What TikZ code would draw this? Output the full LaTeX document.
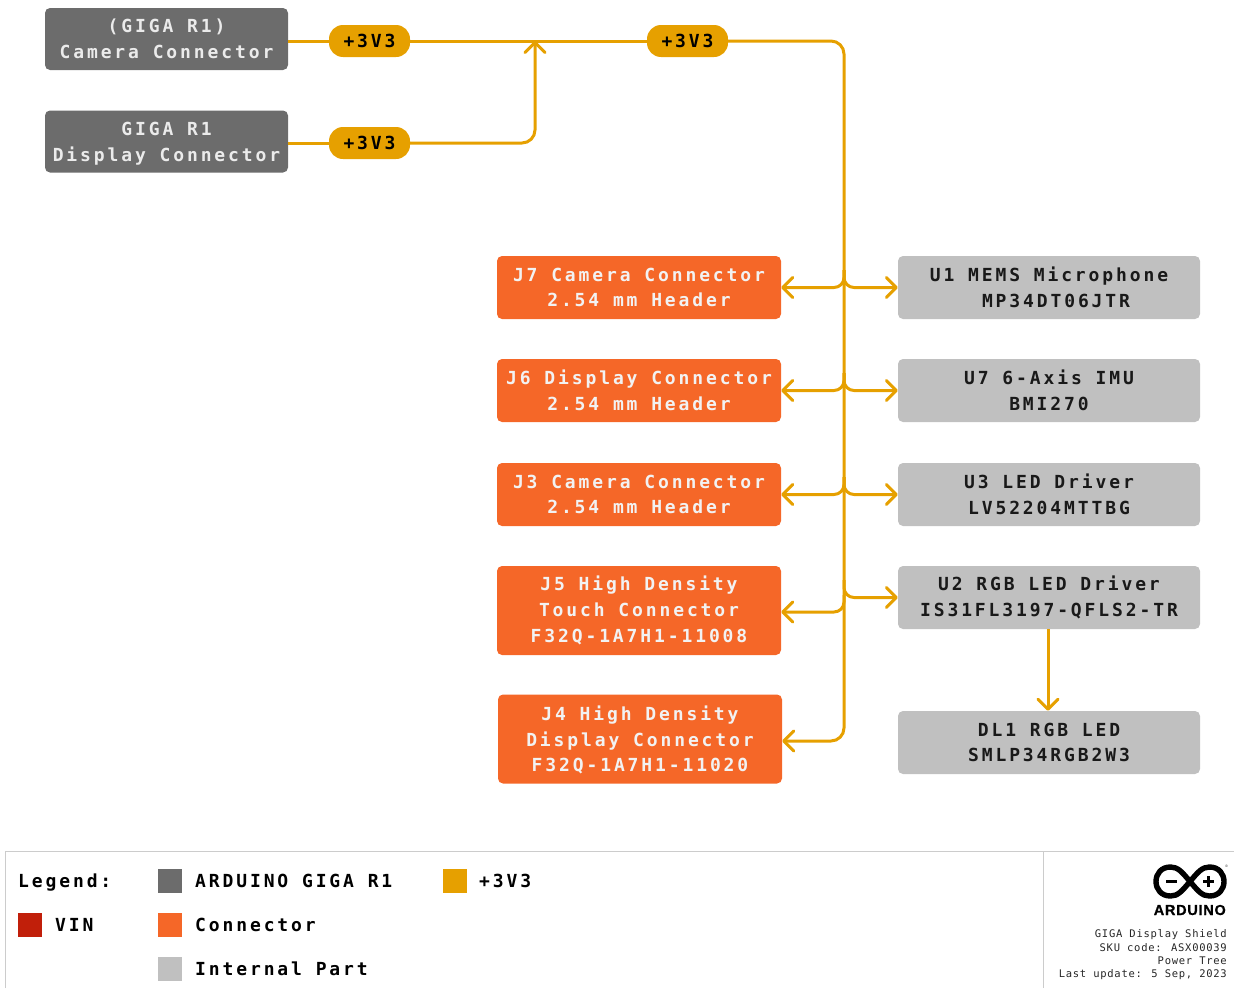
\documentclass[tikz,border=0pt]{standalone}
\usepackage{fontspec}
\usetikzlibrary{arrows.meta}
\newfontfamily\boxfont[LetterSpace=16]{DejaVu Sans Mono Bold}
\newfontfamily\smallfont[LetterSpace=7]{DejaVu Sans Mono}
\newfontfamily\logofont[LetterSpace=5,FakeBold=1]{Liberation Sans Bold}
\definecolor{wirecol}{HTML}{E6A000}
\definecolor{boardcol}{HTML}{6C6C6C}
\definecolor{conncol}{HTML}{F56728}
\definecolor{partcol}{HTML}{C0C0C0}
\definecolor{vincol}{HTML}{C11F0A}
\definecolor{framecol}{HTML}{CCCCCC}
\tikzset{
  box/.style={rounded corners=5pt, align=center, inner sep=0pt, font=\fontsize{18}{25.6}\boxfont},
  board/.style={box, fill=boardcol, text=white!92!black, minimum width=243pt, minimum height=62pt},
  conn/.style={box, fill=conncol, text=white!95!black, minimum width=284pt},
  part/.style={box, fill=partcol, text=black!90!white, minimum width=302pt, minimum height=63pt},
  pill/.style={box, fill=wirecol, text=black, rounded corners=14pt, minimum width=81pt, minimum height=32pt},
  wire/.style={wirecol, line width=3pt, rounded corners=13pt},
  arr/.style={wire, -{Straight Barb[length=10pt,width=20pt,round]}},
  swatch/.style={minimum width=24pt, minimum height=24pt, inner sep=0pt},
  lab/.style={anchor=west, inner sep=0pt, text height=13pt, text depth=0pt, font=\fontsize{18}{22}\boxfont},
  stamp/.style={anchor=east, inner sep=0pt, text=black!85!white, font=\fontsize{10.5}{13}\smallfont}
}
\begin{document}
\begin{tikzpicture}[x=1pt,y=-1pt]
      \useasboundingbox (0,0) rectangle (1234,988);
      %nodes
      \node[board] (cam) at (166.5, 39) {(GIGA R1)\\Camera Connector};
      \node[board] (dsp) at (166.5, 141.5) {\rule{0pt}{17.5pt}GIGA R1\\Display Connector};
      \node[pill] (pa) at (369.5, 41) {+3V3};
      \node[pill] (pb) at (369.5, 143) {+3V3};
      \node[pill] (pc) at (687.5, 41) {+3V3};
      \node[conn, minimum height=63pt] (j7) at (639, 287.5) {J7 Camera Connector\\2.54 mm Header};
      \node[conn, minimum height=63pt] (j6) at (639, 390.5) {J6 Display Connector\\2.54 mm Header};
      \node[conn, minimum height=63pt] (j3) at (639, 494.5) {J3 Camera Connector\\2.54 mm Header};
      \node[conn, minimum height=89pt] (j5) at (639, 610.5) {J5 High Density\\Touch Connector\\F32Q-1A7H1-11008};
      \node[conn, minimum height=89pt] (j4) at (640, 739) {\rule{0pt}{17pt}J4 High Density\\Display Connector\\F32Q-1A7H1-11020};
      \node[part] (u1) at (1049, 287.5) {U1 MEMS Microphone\\\hspace*{14pt}MP34DT06JTR};
      \node[part] (u7) at (1049, 390.5) {U7 6-Axis IMU\\BMI270};
      \node[part] (u3) at (1049, 494.5) {U3 LED Driver\\LV52204MTTBG};
      \node[part] (u2) at (1049, 597.5) {U2 RGB LED Driver\\IS31FL3197-QFLS2-TR};
      \node[part] (dl) at (1049, 742.5) {DL1 RGB LED\\SMLP34RGB2W3};
      \coordinate (join) at (535, 41);
      \coordinate (bus) at (844, 41);
      \coordinate (busa) at (844, 270);
      \coordinate (busb) at (844, 373);
      \coordinate (busc) at (844, 477);
      \coordinate (busd) at (844, 580);
      \coordinate (buse) at (844, 595);
      \coordinate (jfive) at ([yshift=-1.5pt]j5.east);
      \coordinate (jfour) at ([yshift=-2pt]j4.east);
      \coordinate (ufrom) at ([xshift=-1pt]u2.south);
      \coordinate (uto) at ([xshift=-1pt]dl.north);
      %edges
      \draw[wire] (cam.east |- pa) -- (pa);
      \draw[wire] (dsp.east |- pb) -- (pb);
      \draw[wire] (pa) -- (pc);
      \draw[arr] (pb) -| (join);
      \draw[arr] (pc) -| (bus |- jfour) -- (jfour);
      \draw[arr, rounded corners=10pt] (busa) |- (j7);
      \draw[arr, rounded corners=10pt] (busa) |- (u1);
      \draw[arr, rounded corners=10pt] (busb) |- (j6);
      \draw[arr, rounded corners=10pt] (busb) |- (u7);
      \draw[arr, rounded corners=10pt] (busc) |- (j3);
      \draw[arr, rounded corners=10pt] (busc) |- (u3);
      \draw[arr, rounded corners=10pt] (buse) |- (jfive);
      \draw[arr, rounded corners=10pt] (busd) |- (u2);
      \draw[arr] (ufrom) -- (uto);
      %legend
      \draw[framecol, line width=1.5pt] (5.5, 988) -- (5.5, 851.5) -- (1234, 851.5);
      \draw[framecol, line width=1.2pt] (1043.5, 851.5) -- (1043.5, 988);
      \node[lab] (lgd) at (18, 880.5) {Legend:};
      \node[swatch, fill=boardcol] (sa) at (170, 880.5) {};
      \node[lab] (la) at (195, 880.5) {ARDUINO GIGA R1};
      \node[swatch, fill=wirecol] (sb) at (455, 880.5) {};
      \node[lab] (lb) at (479, 880.5) {+3V3};
      \node[swatch, fill=vincol] (sc) at (30, 925) {};
      \node[lab] (lc) at (55, 925) {VIN};
      \node[swatch, fill=conncol] (sd) at (170, 925) {};
      \node[lab] (ld) at (195, 925) {Connector};
      \node[swatch, fill=partcol] (se) at (170, 969) {};
      \node[lab] (le) at (195, 969) {Internal Part};
      %logo
      \draw[black, line width=5.4pt, line join=round] (1190,881.5) .. controls (1182,872) and (1178,867) .. (1170.5,867) .. controls (1161,867) and (1156,874) .. (1156,881.5) .. controls (1156,889) and (1161,896) .. (1170.5,896) .. controls (1178,896) and (1182,891) .. (1190,881.5) .. controls (1198,872) and (1202,867) .. (1209.5,867) .. controls (1219,867) and (1224,874) .. (1224,881.5) .. controls (1224,889) and (1219,896) .. (1209.5,896) .. controls (1202,896) and (1198,891) .. (1190,881.5) -- cycle;
      \fill[black] (1166,880) rectangle (1177,883);
      \fill[black] (1203,880) rectangle (1214,883);
      \fill[black] (1207,876) rectangle (1210,887);
      \node[anchor=east, inner sep=0pt, font=\fontsize{3.5}{4}\selectfont] (reg) at (1228, 866) {®};
      \node[anchor=east, inner sep=0pt, font=\fontsize{14.5}{16}\logofont] (brand) at (1226, 910) {ARDUINO};
      \node[stamp] (sta) at (1227, 934.5) {GIGA Display Shield};
      \node[stamp] (stb) at (1227, 948) {SKU code: ASX00039};
      \node[stamp] (stc) at (1227, 961) {Power Tree};
      \node[stamp] (std) at (1227, 974.5) {Last update: 5 Sep, 2023};
    \end{tikzpicture}
\end{document}
